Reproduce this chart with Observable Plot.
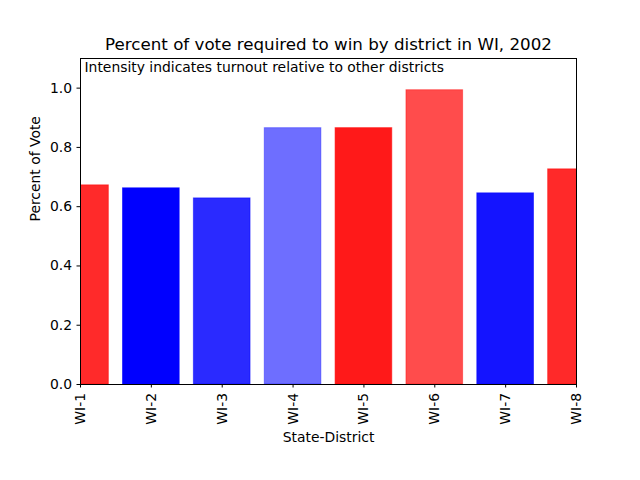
<!DOCTYPE html>
<html>
<head>
<meta charset="utf-8">
<script src="https://cdn.jsdelivr.net/npm/d3@7"></script>
<script src="https://cdn.jsdelivr.net/npm/@observablehq/plot@0.6"></script>
<style>
  body { margin: 0; background: #fff; }
  svg { font-family: "DejaVu Sans", sans-serif; }
</style>
</head>
<body>
<div id="chart"></div>
<script>
const districts = ["WI-1", "WI-2", "WI-3", "WI-4", "WI-5", "WI-6", "WI-7", "WI-8"];
const values = [0.672, 0.662, 0.628, 0.865, 0.865, 0.993, 0.645, 0.726];
const parties = ["R", "D", "D", "D", "R", "R", "D", "R"];
const intensity = [0.835, 1.0, 0.835, 0.57, 0.9, 0.7, 0.92, 0.84];
const yTicks = [0, 0.2, 0.4, 0.6, 0.8, 1.0];

const data = districts.map((d, i) => ({
  i, district: d, value: values[i], party: parties[i], alpha: intensity[i]
}));
const partyColor = p => p === "R" ? "#ff0000" : "#0000ff";

const chart = Plot.plot({
  width: 640,
  height: 480,
  marginLeft: 80,
  marginRight: 64,
  marginTop: 58,
  marginBottom: 96,
  style: { fontFamily: "DejaVu Sans, sans-serif", fontSize: "13.9px", background: "#fff" },
  x: { type: "linear", domain: [0, districts.length - 1] },
  y: { domain: [0, 1.1] },
  marks: [
    Plot.rectY(data, {
      x1: d => d.i - 0.4,
      x2: d => d.i + 0.4,
      y1: 0,
      y2: "value",
      fill: d => partyColor(d.party),
      fillOpacity: "alpha",
      stroke: d => partyColor(d.party),
      strokeOpacity: d => d.alpha * 0.6,
      strokeWidth: 1,
      clip: true
    }),
    Plot.frame({ stroke: "black", strokeWidth: 1 }),
    Plot.axisX(d3.range(districts.length), {
      tickFormat: i => districts[i],
      tickRotate: -90,
      tickSize: 3.5,
      tickPadding: 5,
      label: null,
      fontSize: 13.9,
      fill: "black"
    }),
    Plot.axisY(yTicks, {
      tickFormat: d3.format(".1f"),
      tickSize: 3.5,
      tickPadding: 5,
      label: null,
      fontSize: 13.9,
      fill: "black"
    }),
    Plot.text(["Percent of vote required to win by district in WI, 2002"], {
      frameAnchor: "top", lineAnchor: "bottom", dy: -8.5, fontSize: 16.7, fill: "black"
    }),
    Plot.text(["Intensity indicates turnout relative to other districts"], {
      frameAnchor: "top-left", textAnchor: "start", lineAnchor: "top", dx: 4, dy: 3.5, fontSize: 13.9, fill: "black"
    }),
    Plot.text(["Percent of Vote"], {
      frameAnchor: "left", rotate: -90, dx: -45, fontSize: 13.9, fill: "black"
    }),
    Plot.text(["State-District"], {
      frameAnchor: "bottom", lineAnchor: "middle", dy: 53, fontSize: 13.9, fill: "black"
    })
  ]
});
document.getElementById("chart").appendChild(chart);
</script>
</body>
</html>
